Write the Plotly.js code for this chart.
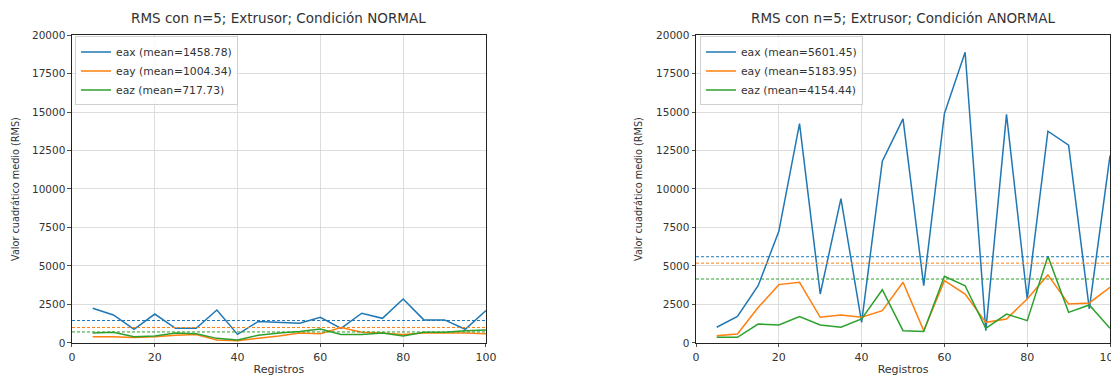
<!DOCTYPE html>
<html><head><meta charset="utf-8">
<script src="https://cdn.plot.ly/plotly-3.0.1.min.js"></script>
<style>html,body{margin:0;padding:0;background:#fff;} #chart{width:1111px;height:376px;}</style>
</head><body><div id="chart"></div>
<script>
// ---- data ----
const registros = [5,10,15,20,25,30,35,40,45,50,55,60,65,70,75,80,85,90,95,100];

const normalEax = [2250,1820,890,1880,950,950,2140,560,1400,1360,1290,1670,950,1930,1600,2860,1500,1500,890,2100];
const normalEay = [400,400,350,400,500,550,200,150,300,450,650,600,1000,700,650,550,650,650,650,600];
const normalEaz = [650,700,400,450,650,600,300,200,500,650,750,900,550,550,650,450,700,700,800,850];

const anormalEax = [1020,1730,3720,7250,14250,3180,9370,1340,11800,14550,3720,14900,18880,800,14850,2860,13750,12850,2210,12170];
const anormalEay = [475,585,2300,3790,3940,1670,1820,1670,2100,3940,800,4050,3180,1340,1560,2860,4420,2530,2600,3620];
const anormalEaz = [370,370,1230,1170,1710,1170,1020,1560,3460,800,740,4330,3720,950,1880,1450,5630,1990,2470,950];

const normalMeans = [1458.78, 1004.34, 717.73];
const anormalMeans = [5601.45, 5183.95, 4154.44];
const seriesNames = ['eax', 'eay', 'eaz'];
const titles = ['RMS con n=5; Extrusor; Condición NORMAL', 'RMS con n=5; Extrusor; Condición ANORMAL'];
const xTitle = 'Registros';
const yTitle = 'Valor cuadrático medio (RMS)';
const yTickVals = [0,2500,5000,7500,10000,12500,15000,17500,20000];
const xTickVals = [0,20,40,60,80,100];
const xRange = [0, 100];
const yRange = [0, 20000];

// ---- styles ----
const colors = ['#1f77b4', '#ff7f0e', '#2ca02c'];
const FONT = 'DejaVu Sans, Liberation Sans, sans-serif';
const TXT = '#333333';
const DOM_L = [0.0648, 0.4374];
const DOM_R = [0.6265, 0.9991];
const DOM_Y = [0.0878, 0.9069];

const panels = [
  {series: [normalEax, normalEay, normalEaz], means: normalMeans, xa: 'x', ya: 'y', legend: 'legend'},
  {series: [anormalEax, anormalEay, anormalEaz], means: anormalMeans, xa: 'x2', ya: 'y2', legend: 'legend2'}
];

const traces = [];
panels.forEach(p => {
  p.series.forEach((vals, i) => {
    traces.push({
      x: registros, y: vals, type: 'scatter', mode: 'lines',
      xaxis: p.xa, yaxis: p.ya, legend: p.legend,
      name: seriesNames[i] + ' (mean=' + p.means[i].toFixed(2) + ')',
      line: {color: colors[i], width: 1.5},
      hoverinfo: 'skip'
    });
  });
  p.means.forEach((m, i) => {
    traces.push({
      x: xRange, y: [m, m], type: 'scatter', mode: 'lines',
      xaxis: p.xa, yaxis: p.ya, showlegend: false,
      line: {color: colors[i], width: 1, dash: '3px,2px'},
      hoverinfo: 'skip'
    });
  });
});

function xAxis(domain, anchor) {
  return {
    domain: domain, anchor: anchor, range: xRange, tickvals: xTickVals,
    showgrid: true, gridcolor: '#d4d4d4', gridwidth: 0.8, zeroline: false,
    showline: true, mirror: true, linecolor: '#222', linewidth: 1,
    ticks: 'outside', ticklen: 3.5, tickcolor: '#222', tickwidth: 0.8,
    ticklabeloverflow: 'allow',
    tickfont: {family: FONT, size: 11, color: TXT},
    automargin: false,
    title: {text: xTitle, font: {family: FONT, size: 11, color: TXT}}
  };
}
function yAxis(anchor) {
  return {
    domain: DOM_Y, anchor: anchor, range: yRange, tickvals: yTickVals,
    tickformat: 'd',
    showgrid: true, gridcolor: '#d4d4d4', gridwidth: 0.8, zeroline: false,
    showline: true, mirror: true, linecolor: '#222', linewidth: 1,
    ticks: 'outside', ticklen: 3.5, tickcolor: '#222', tickwidth: 0.8,
    tickfont: {family: FONT, size: 10.5, color: TXT},
    automargin: false
  };
}
function legendBox(x) {
  return {
    x: x, y: 0.903, xref: 'paper', yref: 'paper', xanchor: 'left', yanchor: 'top',
    bgcolor: 'rgba(255,255,255,0.85)', bordercolor: '#d0d0d0', borderwidth: 1,
    font: {family: FONT, size: 10.8, color: TXT}, itemwidth: 30, tracegroupgap: 0
  };
}
function titleAnn(text, dom) {
  return {text: text, xref: 'paper', yref: 'paper', x: (dom[0] + dom[1]) / 2, y: 0.952,
    xanchor: 'center', yanchor: 'middle', showarrow: false, font: {family: FONT, size: 13.5, color: TXT}};
}
function yTitleAnn(px) {
  return {text: yTitle, xref: 'paper', yref: 'paper', x: px / 1111, y: (DOM_Y[0] + DOM_Y[1]) / 2,
    xanchor: 'center', yanchor: 'middle', textangle: -90, showarrow: false,
    font: {family: FONT, size: 9.7, color: TXT}};
}

const layout = {
  width: 1111, height: 376,
  margin: {l: 0, r: 0, t: 0, b: 0},
  paper_bgcolor: '#ffffff', plot_bgcolor: '#ffffff',
  showlegend: true,
  xaxis: xAxis(DOM_L, 'y'),
  yaxis: yAxis('x'),
  xaxis2: xAxis(DOM_R, 'y2'),
  yaxis2: yAxis('x2'),
  legend: legendBox(0.0675),
  legend2: legendBox(0.630),
  annotations: [titleAnn(titles[0], DOM_L), titleAnn(titles[1], DOM_R), yTitleAnn(16), yTitleAnn(639)]
};

Plotly.newPlot('chart', traces, layout, {staticPlot: true, displayModeBar: false});
</script>
</body></html>
